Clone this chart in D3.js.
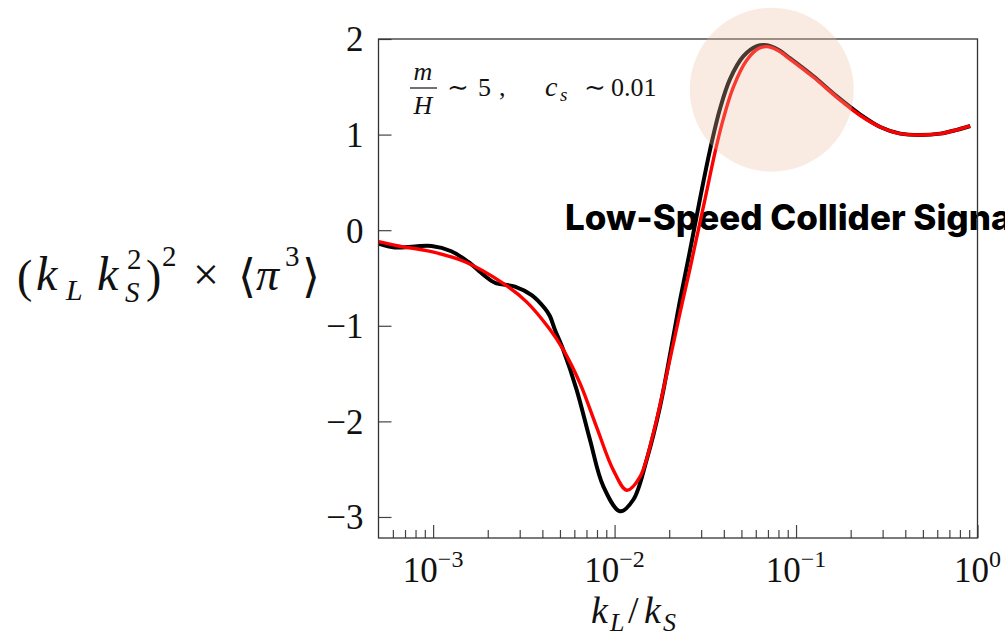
<!DOCTYPE html>
<html>
<head>
<meta charset="utf-8">
<script src="https://cdn.jsdelivr.net/npm/d3@7"></script>
<style>
  body { margin: 0; background: #fff; }
  svg { display: block; }
  .serif { font-family: "Liberation Serif", "DejaVu Serif", serif; fill: #111; }
  .it { font-style: italic; }
</style>
</head>
<body>
<div id="chart"></div>
<script>
// chart size + plot box
const width = 1005;
const height = 639;
const margin = {left: 378.5, right: 27.5, top: 39, bottom: 101};

// data: log10(k_L/k_S) and the curve values
const blackLogK = [-3.301, -3.211, -3.10, -3.009, -2.90, -2.808, -2.72, -2.66, -2.549, -2.457, -2.384, -2.356, -2.329, -2.283, -2.209, -2.136, -2.062, -1.970, -1.897, -1.823, -1.75, -1.676, -1.639, -1.584, -1.529, -1.474, -1.419, -1.364, -1.290, -1.216, -1.161, -1.10, -1.034, -0.904, -0.775, -0.646, -0.536, -0.426, -0.315, -0.205, -0.113, -0.04];
const blackVals = [-0.14, -0.18, -0.17, -0.165, -0.22, -0.33, -0.47, -0.55, -0.59, -0.68, -0.82, -0.90, -1.04, -1.25, -1.67, -2.19, -2.68, -2.94, -2.82, -2.40, -1.85, -1.11, -0.73, -0.21, 0.33, 0.84, 1.27, 1.58, 1.82, 1.925, 1.935, 1.89, 1.80, 1.61, 1.40, 1.21, 1.08, 1.01, 0.996, 1.01, 1.05, 1.09];

const redLogK = [-3.301, -3.19, -3.009, -2.825, -2.614, -2.485, -2.356, -2.283, -2.191, -2.099, -2.007, -1.933, -1.860, -1.786, -1.712, -1.639, -1.584, -1.556, -1.501, -1.446, -1.400, -1.345, -1.271, -1.207, -1.161, -1.10, -1.034, -0.904, -0.775, -0.646, -0.536, -0.426, -0.315, -0.205, -0.113, -0.04];
const redVals = [-0.12, -0.165, -0.225, -0.33, -0.556, -0.75, -1.04, -1.25, -1.60, -2.06, -2.51, -2.72, -2.58, -2.12, -1.50, -0.86, -0.40, -0.15, 0.33, 0.82, 1.17, 1.50, 1.78, 1.90, 1.92, 1.88, 1.79, 1.60, 1.39, 1.20, 1.08, 1.01, 0.996, 1.01, 1.05, 1.09];

// ticks
const yTicks = [-3, -2, -1, 0, 1, 2];
const xMajorExp = [-3, -2, -1, 0];
const xMinor = [6e-4, 7e-4, 8e-4, 9e-4, 2e-3, 3e-3, 4e-3, 5e-3, 6e-3, 7e-3, 8e-3, 9e-3,
                0.02, 0.03, 0.04, 0.05, 0.06, 0.07, 0.08, 0.09, 0.2, 0.3, 0.4, 0.5, 0.6, 0.7, 0.8, 0.9];

const svg = d3.select("#chart").append("svg")
  .attr("width", width).attr("height", height);

const x = d3.scaleLog().domain([5e-4, 1]).range([margin.left, width - margin.right]);
const y = d3.scaleLinear().domain([-3.22, 2]).range([height - margin.bottom, margin.top]);

// annotation text sits behind the curves
svg.append("text")
  .attr("x", 565).attr("y", 230)
  .style("font-family", "Inter, 'Noto Sans', sans-serif")
  .style("font-weight", 800)
  .style("font-size", "35px")
  .text("Low-Speed Collider Signal");

// y axis ticks (inward)
const yAxis = svg.append("g")
  .attr("transform", "translate(" + margin.left + ",0)")
  .call(d3.axisLeft(y).tickValues(yTicks).tickSize(-13).tickPadding(15)
    .tickFormat(d => d < 0 ? "\u2212" + (-d) : String(d)));
yAxis.select(".domain").remove();
yAxis.selectAll("line").attr("stroke", "#444").attr("stroke-width", 1.2);
yAxis.selectAll("text")
  .attr("class", "serif")
  .style("font-size", "35px")
  .attr("dy", "0.34em");

// x axis ticks (inward), majors + minors
const xBase = height - margin.bottom;
const xMajor = svg.append("g")
  .attr("transform", "translate(0," + xBase + ")")
  .call(d3.axisBottom(x).tickValues(xMajorExp.map(e => Math.pow(10, e))).tickSize(-13).tickFormat(""));
const xMin = svg.append("g")
  .attr("transform", "translate(0," + xBase + ")")
  .call(d3.axisBottom(x).tickValues(xMinor).tickSize(-8).tickFormat(""));
xMajor.select(".domain").remove();
xMin.select(".domain").remove();
svg.selectAll("g line").attr("stroke", "#444").attr("stroke-width", 1.2);

// 10^n labels
xMajorExp.forEach(e => {
  const t = svg.append("text")
    .attr("class", "serif")
    .attr("x", x(Math.pow(10, e)))
    .attr("y", xBase + 44)
    .attr("text-anchor", "middle")
    .style("font-size", "35px");
  t.append("tspan").text("10");
  t.append("tspan").attr("dy", "-15").style("font-size", "24px")
    .text(e === 0 ? "0" : "\u2212" + Math.abs(e));
});

// curves
const line = d3.line()
  .x(d => x(Math.pow(10, d[0])))
  .y(d => y(d[1]))
  .curve(d3.curveCatmullRom.alpha(0.5));

svg.append("path")
  .datum(d3.zip(blackLogK, blackVals))
  .attr("fill", "none").attr("stroke", "#000").attr("stroke-width", 4)
  .attr("stroke-linejoin", "round")
  .attr("d", line);

svg.append("path")
  .datum(d3.zip(redLogK, redVals))
  .attr("fill", "none").attr("stroke", "#ff0000").attr("stroke-width", 3.4)
  .attr("stroke-linejoin", "round")
  .attr("d", line);

// frame
svg.append("rect")
  .attr("x", margin.left).attr("y", margin.top)
  .attr("width", width - margin.left - margin.right)
  .attr("height", height - margin.top - margin.bottom)
  .attr("fill", "none").attr("stroke", "#333").attr("stroke-width", 1.3);

// highlight circle around the peak
svg.append("circle")
  .attr("cx", x(0.0735)).attr("cy", y(1.47)).attr("r", 82)
  .attr("fill", "rgb(240,190,160)").attr("opacity", 0.3);

// small helper for math pieces
function mtext(g, px, py, txt, size, italic) {
  return g.append("text").attr("class", italic ? "serif it" : "serif")
    .attr("x", px).attr("y", py).style("font-size", size + "px").text(txt);
}

// parameter note: m/H ~ 5 , c_s ~ 0.01
const note = svg.append("g");
mtext(note, 423, 80, "m", 26, true).attr("text-anchor", "middle");
note.append("line").attr("x1", 410).attr("x2", 437).attr("y1", 88).attr("y2", 88)
  .attr("stroke", "#111").attr("stroke-width", 1.2);
mtext(note, 423, 114, "H", 26, true).attr("text-anchor", "middle");
mtext(note, 447, 96, "\u223C", 26, false);
mtext(note, 478, 96, "5", 26, false);
mtext(note, 499, 96, ",", 26, false);
mtext(note, 545, 96, "c", 28, true);
mtext(note, 560, 101, "s", 19, true);
mtext(note, 584, 96, "\u223C", 26, false);
mtext(note, 611, 96, "0.01", 26, false);

// x axis title: k_L / k_S
const xt = svg.append("g");
mtext(xt, 591, 623, "k", 38, true);
mtext(xt, 610, 631, "L", 26, true);
mtext(xt, 628, 623, "/", 38, false);
mtext(xt, 644, 623, "k", 38, true);
mtext(xt, 663, 631, "S", 26, true);

// y axis title: (k_L k_S^2)^2 x <pi^3>
const yt = svg.append("g");
mtext(yt, 17, 292, "(", 46, false);
mtext(yt, 36, 290, "k", 48, true);
mtext(yt, 66, 300, "L", 30, true);
mtext(yt, 97, 290, "k", 48, true);
mtext(yt, 127, 269, "2", 29, false);
mtext(yt, 125, 302, "S", 29, true);
mtext(yt, 146, 292, ")", 46, false);
mtext(yt, 162, 266, "2", 29, false);
mtext(yt, 193, 290, "\u00D7", 46, false);
mtext(yt, 238, 292, "\u27E8", 46, false);
mtext(yt, 256, 290, "\u03C0", 46, true);
mtext(yt, 285, 266, "3", 29, false);
mtext(yt, 302, 292, "\u27E9", 46, false);
</script>
</body>
</html>
